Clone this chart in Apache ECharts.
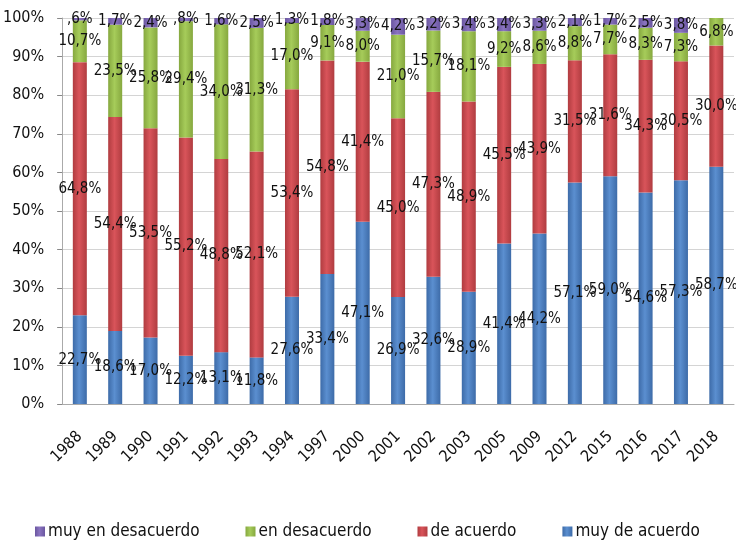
<!DOCTYPE html>
<html>
<head>
<meta charset="utf-8">
<script src="https://cdn.jsdelivr.net/npm/echarts@6/dist/echarts.min.js"></script>
<style>
  html, body { margin: 0; padding: 0; background: #fff; }
  #chart { width: 736px; height: 547px; }
</style>
</head>
<body>
<div id="chart"></div>
<script>
  var years = ['1988', '1989', '1990', '1991', '1992', '1993', '1994', '1997', '2000', '2001',
    '2002', '2003', '2005', '2009', '2012', '2015', '2016', '2017', '2018'];
  var muyDeAcuerdo = [22.7, 18.6, 17.0, 12.2, 13.1, 11.8, 27.6, 33.4, 47.1, 26.9,
    32.6, 28.9, 41.4, 44.2, 57.1, 59.0, 54.6, 57.3, 58.7];
  var deAcuerdo = [64.8, 54.4, 53.5, 55.2, 48.8, 52.1, 53.4, 54.8, 41.4, 45.0,
    47.3, 48.9, 45.5, 43.9, 31.5, 31.6, 34.3, 30.5, 30.0];
  var enDesacuerdo = [10.7, 23.5, 25.8, 29.4, 34.0, 31.3, 17.0, 9.1, 8.0, 21.0,
    15.7, 18.1, 9.2, 8.6, 8.8, 7.7, 8.3, 7.3, 6.8];
  var muyEnDesacuerdo = [0.6, 1.7, 2.4, 0.8, 1.6, 2.5, 1.3, 1.8, 3.3, 4.2,
    3.2, 3.4, 3.4, 3.3, 2.1, 1.7, 2.5, 3.8, null];
  var yTicks = ['0%', '10%', '20%', '30%', '40%', '50%', '60%', '70%', '80%', '90%', '100%'];

  var font = "'Liberation Sans Narrow', 'DejaVu Sans Condensed', sans-serif";

  // totales por año para el 100% apilado
  var totals = years.map(function (y, i) {
    return muyDeAcuerdo[i] + deAcuerdo[i] + enDesacuerdo[i] + (muyEnDesacuerdo[i] || 0);
  });

  function pct(arr) {
    return arr.map(function (v, i) { return v == null ? null : v / totals[i] * 100; });
  }

  function fmt(v) {
    var s = v.toFixed(1).replace('.', ',');
    if (s.indexOf('0,') === 0) s = s.substring(1);
    return s + '%';
  }

  function cyl(c1, c2) {
    return new echarts.graphic.LinearGradient(0, 0, 1, 0, [
      {offset: 0, color: c2}, {offset: 0.45, color: c1}, {offset: 1, color: c2}
    ]);
  }

  function serie(name, raw, color, dark) {
    return {
      name: name,
      type: 'bar',
      stack: 'total',
      barWidth: 14,
      data: pct(raw),
      itemStyle: {color: cyl(color, dark)},
      label: {
        show: true,
        position: 'inside',
        color: '#111',
        fontSize: 15,
        fontFamily: font,
        formatter: function (p) { return raw[p.dataIndex] == null ? '' : fmt(raw[p.dataIndex]); }
      }
    };
  }

  var myChart = echarts.init(document.getElementById('chart'));
  myChart.setOption({
    animation: false,
    legend: {
      bottom: 2,
      left: 30,
      width: 706,
      itemWidth: 10,
      itemHeight: 10,
      itemGap: 46,
      icon: 'rect',
      textStyle: {fontSize: 17, fontFamily: font, color: '#111', padding: [0, 0, 0, -2]},
      data: ['muy en desacuerdo', 'en desacuerdo', 'de acuerdo', 'muy de acuerdo']
    },
    grid: {left: 62, right: 2, top: 18, bottom: 143},
    xAxis: {
      type: 'category',
      data: years,
      axisLine: {lineStyle: {color: '#aaa'}},
      axisTick: {lineStyle: {color: '#888'}, length: 5},
      axisLabel: {rotate: 45, color: '#111', fontSize: 16, fontFamily: font, margin: 30}
    },
    yAxis: {
      type: 'value',
      min: 0,
      max: 100,
      interval: 10,
      axisLine: {show: true, lineStyle: {color: '#aaa'}},
      axisTick: {show: true, lineStyle: {color: '#888'}},
      splitLine: {lineStyle: {color: '#d4d4d4'}},
      axisLabel: {
        color: '#111', fontSize: 16, fontFamily: font, margin: 18,
        formatter: function (v) { return yTicks[Math.round(v / 10)]; }
      }
    },
    series: [
      serie('muy de acuerdo', muyDeAcuerdo, '#5b8fd0', '#3d6ba8'),
      serie('de acuerdo', deAcuerdo, '#d9545a', '#b03c40'),
      serie('en desacuerdo', enDesacuerdo, '#a6cc5a', '#86a83f'),
      serie('muy en desacuerdo', muyEnDesacuerdo, '#8a74c0', '#6a56a0')
    ],
    color: ['#4f81bd', '#c0504d', '#9bbb59', '#8064a2']
  });
</script>
</body>
</html>
